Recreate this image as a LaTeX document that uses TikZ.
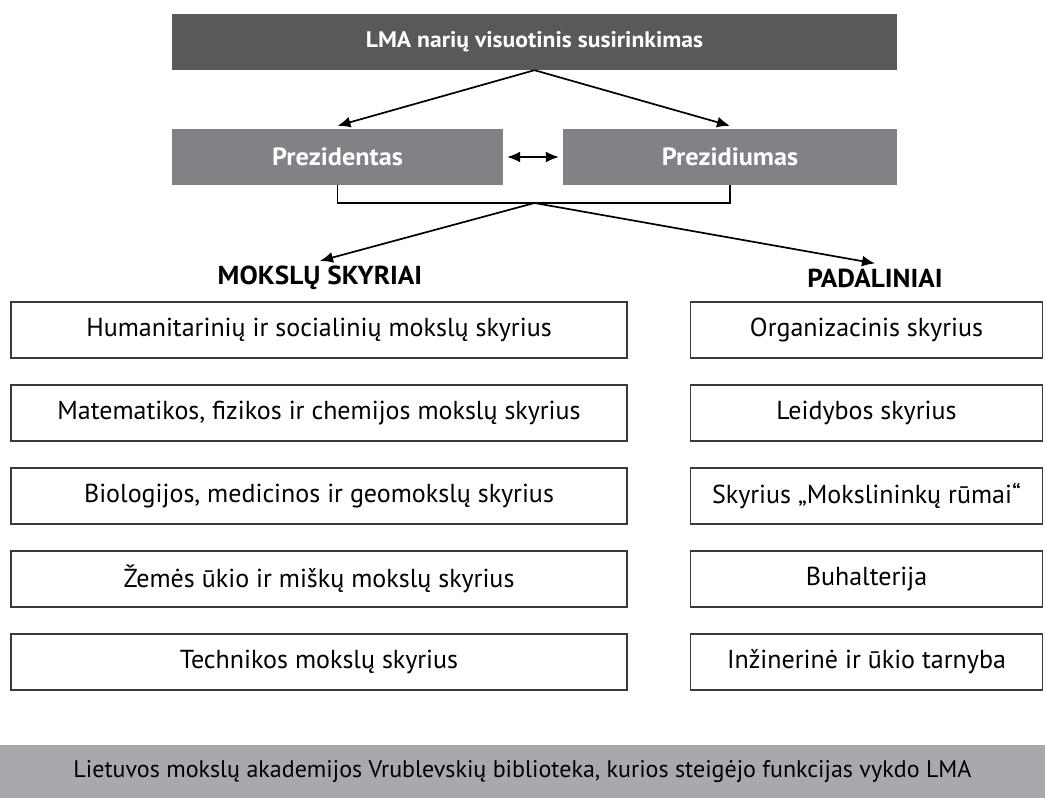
\documentclass[tikz,border=0pt]{standalone}
\usepackage{fontspec}
\setmainfont{PT Sans}
\newfontfamily\strongfont{PT Sans}[FakeStretch=1.05]
\usetikzlibrary{arrows.meta}

\definecolor{darkbox}{HTML}{58595B}
\definecolor{midbox}{HTML}{808285}
\definecolor{lightbar}{HTML}{A7A9AC}
\definecolor{edge}{HTML}{3A3A3C}

\tikzset{
  headbox/.style={fill=darkbox, text=white, minimum width=725, minimum height=56, inner sep=0,
    font=\strongfont\bfseries\fontsize{22.5}{26}\selectfont},
  leadbox/.style={fill=midbox, text=white, minimum height=56, inner sep=0,
    font=\strongfont\bfseries\fontsize{25}{29}\selectfont},
  unitbox/.style={draw=edge, line width=1.3pt, minimum height=56, inner sep=0,
    font=\fontsize{26}{30}\selectfont},
  grouplabel/.style={font=\strongfont\bfseries\fontsize{26}{30}\selectfont, inner sep=2},
  link/.style={line width=1.7pt, -{Latex[length=13pt,width=11pt]}},
}

\begin{document}
\begin{tikzpicture}[x=1pt,y=1pt]
\useasboundingbox (0,0) rectangle (1045,798);

% governing bodies
\node[headbox] (assembly) at (534.5,756) {LMA narių visuotinis susirinkimas};
\node[leadbox, minimum width=331] (president) at (337.5,641) {Prezidentas};
\node[leadbox, minimum width=334] (presidium) at (730,641) {Prezidiumas};

\draw[link] (assembly.south) -- ([yshift=3]president.north);
\draw[link] (assembly.south) -- ([yshift=3]presidium.north);
\draw[link, {Latex[length=13pt,width=11pt]}-{Latex[length=13pt,width=11pt]}] ([xshift=4]president.east) -- ([xshift=-4]presidium.west);

% bracket under the two boxes
\coordinate (join) at (534.5,595);
\draw[line width=1.7pt] (president.south) |- (join) -| (presidium.south);

% group headings
\node[grouplabel] (science) at (320,520) {MOKSLŲ SKYRIAI};
\node[grouplabel] (units) at (875,520) {PADALINIAI};
\draw[link] (join) -- ([yshift=3]science.north);
\draw[link] (join) -- ([yshift=3]units.north);

% scientific divisions
\node[unitbox, minimum width=616] (sci1) at (319,468) {Humanitarinių ir socialinių mokslų skyrius};
\node[unitbox, minimum width=616] (sci2) at (319,385) {Matematikos, fizikos ir chemijos mokslų skyrius};
\node[unitbox, minimum width=616] (sci3) at (319,302) {Biologijos, medicinos ir geomokslų skyrius};
\node[unitbox, minimum width=616] (sci4) at (319,219) {Žemės ūkio ir miškų mokslų skyrius};
\node[unitbox, minimum width=616] (sci5) at (319,136) {Technikos mokslų skyrius};

% administrative units
\node[unitbox, minimum width=352] (unit1) at (866.5,468) {Organizacinis skyrius};
\node[unitbox, minimum width=352] (unit2) at (866.5,385) {Leidybos skyrius};
\node[unitbox, minimum width=352] (unit3) at (866.5,302) {Skyrius „Mokslininkų rūmai“};
\node[unitbox, minimum width=352] (unit4) at (866.5,219) {Buhalterija};
\node[unitbox, minimum width=352] (unit5) at (866.5,136) {Inžinerinė ir ūkio tarnyba};

% library
\node[fill=lightbar, minimum width=1045, minimum height=53, inner sep=0,
  font=\fontsize{24}{28}\selectfont] (library) at (522.5,26.5)
  {Lietuvos mokslų akademijos Vrublevskių biblioteka, kurios steigėjo funkcijas vykdo LMA};
\end{tikzpicture}
\end{document}
